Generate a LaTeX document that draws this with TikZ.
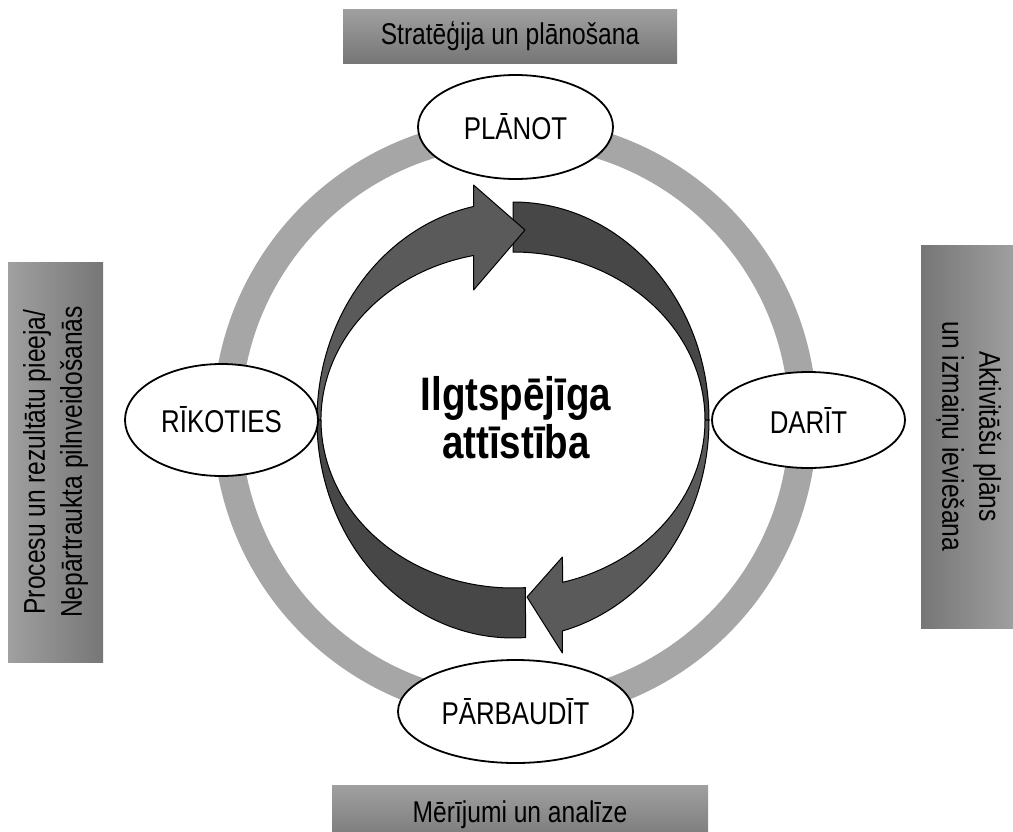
\documentclass[tikz,border=0pt]{standalone}
\usepackage{fontspec}
\setmainfont{Liberation Sans}[FakeStretch=0.82]
\usepackage{tikz}
\usetikzlibrary{shapes.geometric}
\definecolor{ringgray}{HTML}{A6A6A6}
\definecolor{arrowdark}{HTML}{474747}
\definecolor{arrowmid}{HTML}{5A5A5A}
\definecolor{boxlight}{HTML}{A0A0A0}
\definecolor{boxdark}{HTML}{767676}

\begin{document}
\begin{tikzpicture}[
  x=1pt,y=-1pt,
  phase/.style={draw,ellipse,fill=white,line width=1.8pt,inner sep=0pt,font=\fontsize{31.5}{36}\selectfont},
  band/.style={inner sep=0pt,align=center,font=\fontsize{30}{37}\selectfont},
  backpart/.style={draw,line width=1pt,fill=arrowdark,line join=round},
  frontpart/.style={draw,line width=1pt,fill=arrowmid,line join=round}
]
\useasboundingbox (0,0) rectangle (1013,831);

% gray cycle behind everything
\draw[ringgray,line width=28pt] (515,420) circle[radius=288];

% the two turning arrows
\draw[backpart] (513,202) arc[start angle=270,end angle=360,x radius=196,y radius=218]
  -- (705,420) arc[start angle=0,end angle=-90,x radius=192,y radius=168] -- cycle;
\draw[backpart] (525.6,637.5) arc[start angle=86.3,end angle=180,x radius=196,y radius=218]
  -- (321,420) arc[start angle=180,end angle=86.3,x radius=192,y radius=168] -- cycle;
\draw[frontpart] (317,420) arc[start angle=180,end angle=258.4,x radius=196,y radius=218]
  -- (473.6,185) -- (525,230) -- (473.6,290) -- (473.7,255.5)
  arc[start angle=258.2,end angle=180,x radius=192,y radius=168] -- cycle;
\draw[frontpart] (709,420) arc[start angle=0,end angle=75.4,x radius=196,y radius=218]
  -- (562.4,653) -- (527,597) -- (562.4,557) -- (562.7,582.3)
  arc[start angle=75,end angle=0,x radius=192,y radius=168] -- cycle;

\node[font=\bfseries\fontsize{47}{48}\selectfont,align=center] (core) at (516,418) {Ilgtspējīga\\attīstība};

% phases
\node[phase,minimum width=195pt,minimum height=104pt] (planot) at (515.5,127) {PLĀNOT};
\node[phase,minimum width=193pt,minimum height=96pt] (darit) at (808.5,420) {DARĪT};
\node[phase,minimum width=235pt,minimum height=103pt] (parbaudit) at (515.5,711.5) {PĀRBAUDĪT};
\node[phase,minimum width=193pt,minimum height=112pt] (rikoties) at (221.5,420) {RĪKOTIES};

% side labels
\node[band,top color=boxlight,bottom color=boxdark,minimum width=334pt,minimum height=54pt] (strategy) at (510,36) {Stratēģija un plānošana};
\node[band,top color=boxlight,bottom color=boxdark,minimum width=376pt,minimum height=60pt] (measures) at (520,815) {Mērījumi un analīze};
\node[band,left color=boxlight,right color=boxdark,rotate=90,minimum width=400pt,minimum height=95pt] (process) at (55.5,462) {Procesu un rezultātu pieeja/\\Nepārtraukta pilnveidošanās};
\node[band,left color=boxdark,right color=boxlight,rotate=-90,minimum width=383pt,minimum height=95pt] (actions) at (968.5,436.5) {Aktivitāšu plāns\\un izmaiņu ieviešana};
\end{tikzpicture}
\end{document}
